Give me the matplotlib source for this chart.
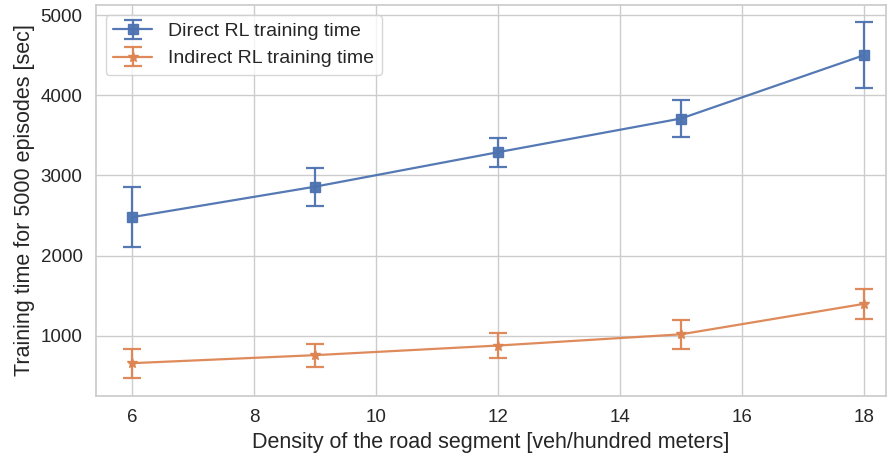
import numpy as np
import matplotlib
matplotlib.use("Agg")
import matplotlib.pyplot as plt
import seaborn as sns

sns.set_theme(style="whitegrid")
plt.rcParams['font.family'] = ['Liberation Sans', 'DejaVu Sans']

# densidad del segmento
densidad = [6, 9, 12, 15, 18]
# tiempo de entrenamiento directo y su error
directo = [2480, 2860, 3290, 3710, 4500]
err_directo = [370, 235, 180, 235, 415]
# tiempo de entrenamiento indirecto y su error
indirecto = [660, 760, 880, 1020, 1400]
err_indirecto = [180, 145, 155, 180, 185]

fig, ax = plt.subplots(figsize=(8.96, 4.53), dpi=100)

ax.errorbar(densidad, directo, yerr=err_directo, marker="s", markersize=6.5,
            capsize=6.5, linewidth=1.6, elinewidth=1.6, capthick=1.6,
            color="#4c72b0", alpha=0.95, label="Direct RL training time")
ax.errorbar(densidad, indirecto, yerr=err_indirecto, marker="*", markersize=7,
            capsize=6.5, linewidth=1.6, elinewidth=1.6, capthick=1.6,
            color="#dd8452", alpha=0.95, label="Indirect RL training time")

ax.set_xlim(5.41, 18.36)
ax.set_ylim(252, 5125)
ax.set_xticks([6, 8, 10, 12, 14, 16, 18])
ax.set_yticks([1000, 2000, 3000, 4000, 5000])
ax.tick_params(labelsize=13.5)
ax.set_xlabel("Density of the road segment [veh/hundred meters]", fontsize=15.5)
ax.set_ylabel("Training time for 5000 episodes [sec]", fontsize=15.5)
ax.legend(loc="upper left", fontsize=14)

plt.subplots_adjust(left=0.107, right=0.989, top=0.989, bottom=0.126)
plt.savefig("out.png")
